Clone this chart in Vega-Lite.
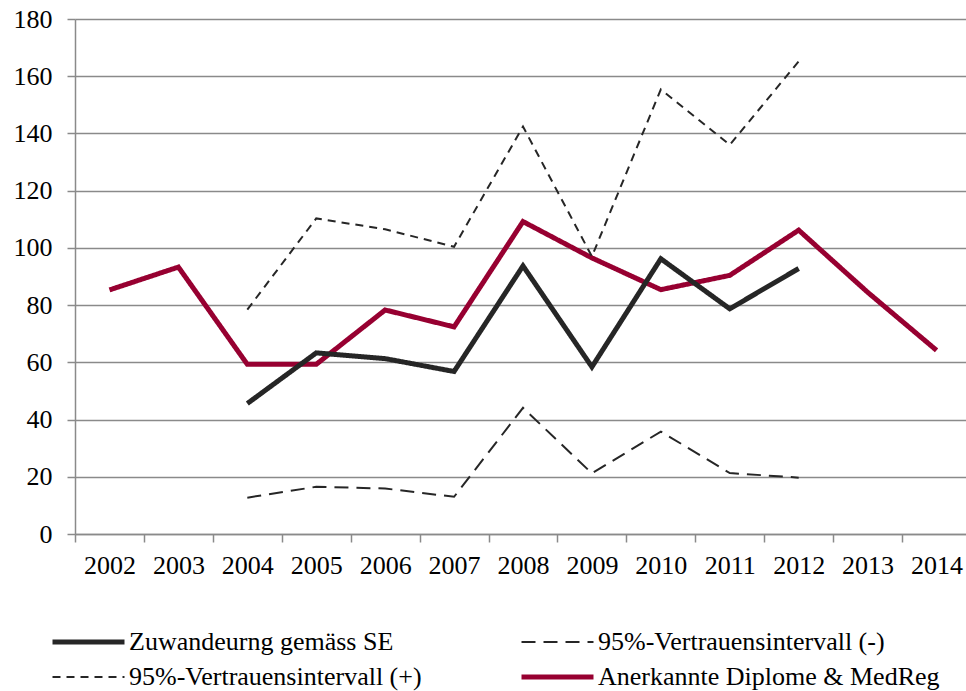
{
  "$schema": "https://vega.github.io/schema/vega-lite/v6.json",
  "width": 891,
  "height": 515,
  "autosize": {"type": "none"},
  "padding": {"left": 75, "top": 19, "right": 0, "bottom": 157},
  "background": "white",
  "config": {
    "view": {"stroke": null},
    "font": "Liberation Serif"
  },
  "data": {
    "values": [
      {"year": "2002", "series": "Anerkannte Diplome & MedReg", "value": 85.3},
      {"year": "2003", "series": "Anerkannte Diplome & MedReg", "value": 93.3},
      {"year": "2004", "series": "Anerkannte Diplome & MedReg", "value": 59.3},
      {"year": "2005", "series": "Anerkannte Diplome & MedReg", "value": 59.3},
      {"year": "2006", "series": "Anerkannte Diplome & MedReg", "value": 78.3},
      {"year": "2007", "series": "Anerkannte Diplome & MedReg", "value": 72.4},
      {"year": "2008", "series": "Anerkannte Diplome & MedReg", "value": 109.2},
      {"year": "2009", "series": "Anerkannte Diplome & MedReg", "value": 96.5},
      {"year": "2010", "series": "Anerkannte Diplome & MedReg", "value": 85.4},
      {"year": "2011", "series": "Anerkannte Diplome & MedReg", "value": 90.4},
      {"year": "2012", "series": "Anerkannte Diplome & MedReg", "value": 106.2},
      {"year": "2013", "series": "Anerkannte Diplome & MedReg", "value": 84.5},
      {"year": "2014", "series": "Anerkannte Diplome & MedReg", "value": 64.2},
      {"year": "2004", "series": "Zuwandeurng gemäss SE", "value": 45.6},
      {"year": "2005", "series": "Zuwandeurng gemäss SE", "value": 63.3},
      {"year": "2006", "series": "Zuwandeurng gemäss SE", "value": 61.3},
      {"year": "2007", "series": "Zuwandeurng gemäss SE", "value": 56.8},
      {"year": "2008", "series": "Zuwandeurng gemäss SE", "value": 93.7},
      {"year": "2009", "series": "Zuwandeurng gemäss SE", "value": 58.4},
      {"year": "2010", "series": "Zuwandeurng gemäss SE", "value": 96.2},
      {"year": "2011", "series": "Zuwandeurng gemäss SE", "value": 78.7},
      {"year": "2012", "series": "Zuwandeurng gemäss SE", "value": 92.8},
      {"year": "2004", "series": "95%-Vertrauensintervall (+)", "value": 78.4},
      {"year": "2005", "series": "95%-Vertrauensintervall (+)", "value": 110.3},
      {"year": "2006", "series": "95%-Vertrauensintervall (+)", "value": 106.5},
      {"year": "2007", "series": "95%-Vertrauensintervall (+)", "value": 100.4},
      {"year": "2008", "series": "95%-Vertrauensintervall (+)", "value": 142.4},
      {"year": "2009", "series": "95%-Vertrauensintervall (+)", "value": 97.0},
      {"year": "2010", "series": "95%-Vertrauensintervall (+)", "value": 155.4},
      {"year": "2011", "series": "95%-Vertrauensintervall (+)", "value": 136.0},
      {"year": "2012", "series": "95%-Vertrauensintervall (+)", "value": 165.2},
      {"year": "2004", "series": "95%-Vertrauensintervall (-)", "value": 12.7},
      {"year": "2005", "series": "95%-Vertrauensintervall (-)", "value": 16.5},
      {"year": "2006", "series": "95%-Vertrauensintervall (-)", "value": 15.9},
      {"year": "2007", "series": "95%-Vertrauensintervall (-)", "value": 13.0},
      {"year": "2008", "series": "95%-Vertrauensintervall (-)", "value": 44.1},
      {"year": "2009", "series": "95%-Vertrauensintervall (-)", "value": 21.2},
      {"year": "2010", "series": "95%-Vertrauensintervall (-)", "value": 35.8},
      {"year": "2011", "series": "95%-Vertrauensintervall (-)", "value": 21.3},
      {"year": "2012", "series": "95%-Vertrauensintervall (-)", "value": 19.7}
    ]
  },
  "mark": {"type": "line", "strokeJoin": "miter"},
  "encoding": {
    "x": {
      "field": "year",
      "type": "ordinal",
      "scale": {"type": "band", "paddingInner": 0, "paddingOuter": 0, "range": [0, 896]},
      "axis": {
        "title": null,
        "labelAngle": 0,
        "labelFont": "Liberation Serif",
        "labelFontSize": 26,
        "labelColor": "#000000",
        "labelPadding": 10,
        "tickBand": "extent",
        "tickSize": 8,
        "tickColor": "#8a8a8a",
        "tickWidth": 1.5,
        "domainColor": "#8a8a8a",
        "domainWidth": 1.5,
        "grid": false
      }
    },
    "y": {
      "field": "value",
      "type": "quantitative",
      "scale": {"domain": [0, 180], "nice": false},
      "axis": {
        "title": null,
        "values": [0, 20, 40, 60, 80, 100, 120, 140, 160, 180],
        "labelFont": "Liberation Serif",
        "labelFontSize": 26,
        "labelColor": "#000000",
        "labelPadding": 15,
        "tickSize": 8,
        "tickColor": "#8a8a8a",
        "tickWidth": 1.5,
        "domainColor": "#8a8a8a",
        "domainWidth": 1.5,
        "grid": true,
        "gridColor": "#8a8a8a",
        "gridWidth": 1.5
      }
    },
    "color": {
      "field": "series",
      "type": "nominal",
      "scale": {
        "domain": ["Zuwandeurng gemäss SE", "95%-Vertrauensintervall (-)", "95%-Vertrauensintervall (+)", "Anerkannte Diplome & MedReg"],
        "range": ["#262626", "#262626", "#262626", "#970031"]
      },
      "legend": {
        "title": null,
        "orient": "none",
        "direction": "horizontal",
        "legendX": -25,
        "legendY": 606,
        "columns": 2,
        "columnPadding": 97,
        "rowPadding": 1,
        "clipHeight": 34,
        "symbolType": "stroke",
        "symbolSize": 5184,
        "labelFont": "Liberation Serif",
        "labelFontSize": 26,
        "labelColor": "#000000",
        "labelOffset": 2,
        "labelLimit": 0
      }
    },
    "strokeDash": {
      "field": "series",
      "type": "nominal",
      "scale": {
        "domain": ["Zuwandeurng gemäss SE", "95%-Vertrauensintervall (-)", "95%-Vertrauensintervall (+)", "Anerkannte Diplome & MedReg"],
        "range": [[1, 0], [14, 8], [8, 6], [1, 0]]
      },
      "legend": null
    },
    "strokeWidth": {
      "field": "series",
      "type": "nominal",
      "scale": {
        "type": "ordinal",
        "domain": ["Zuwandeurng gemäss SE", "95%-Vertrauensintervall (-)", "95%-Vertrauensintervall (+)", "Anerkannte Diplome & MedReg"],
        "range": [5, 2, 2, 5]
      },
      "legend": null
    }
  }
}
